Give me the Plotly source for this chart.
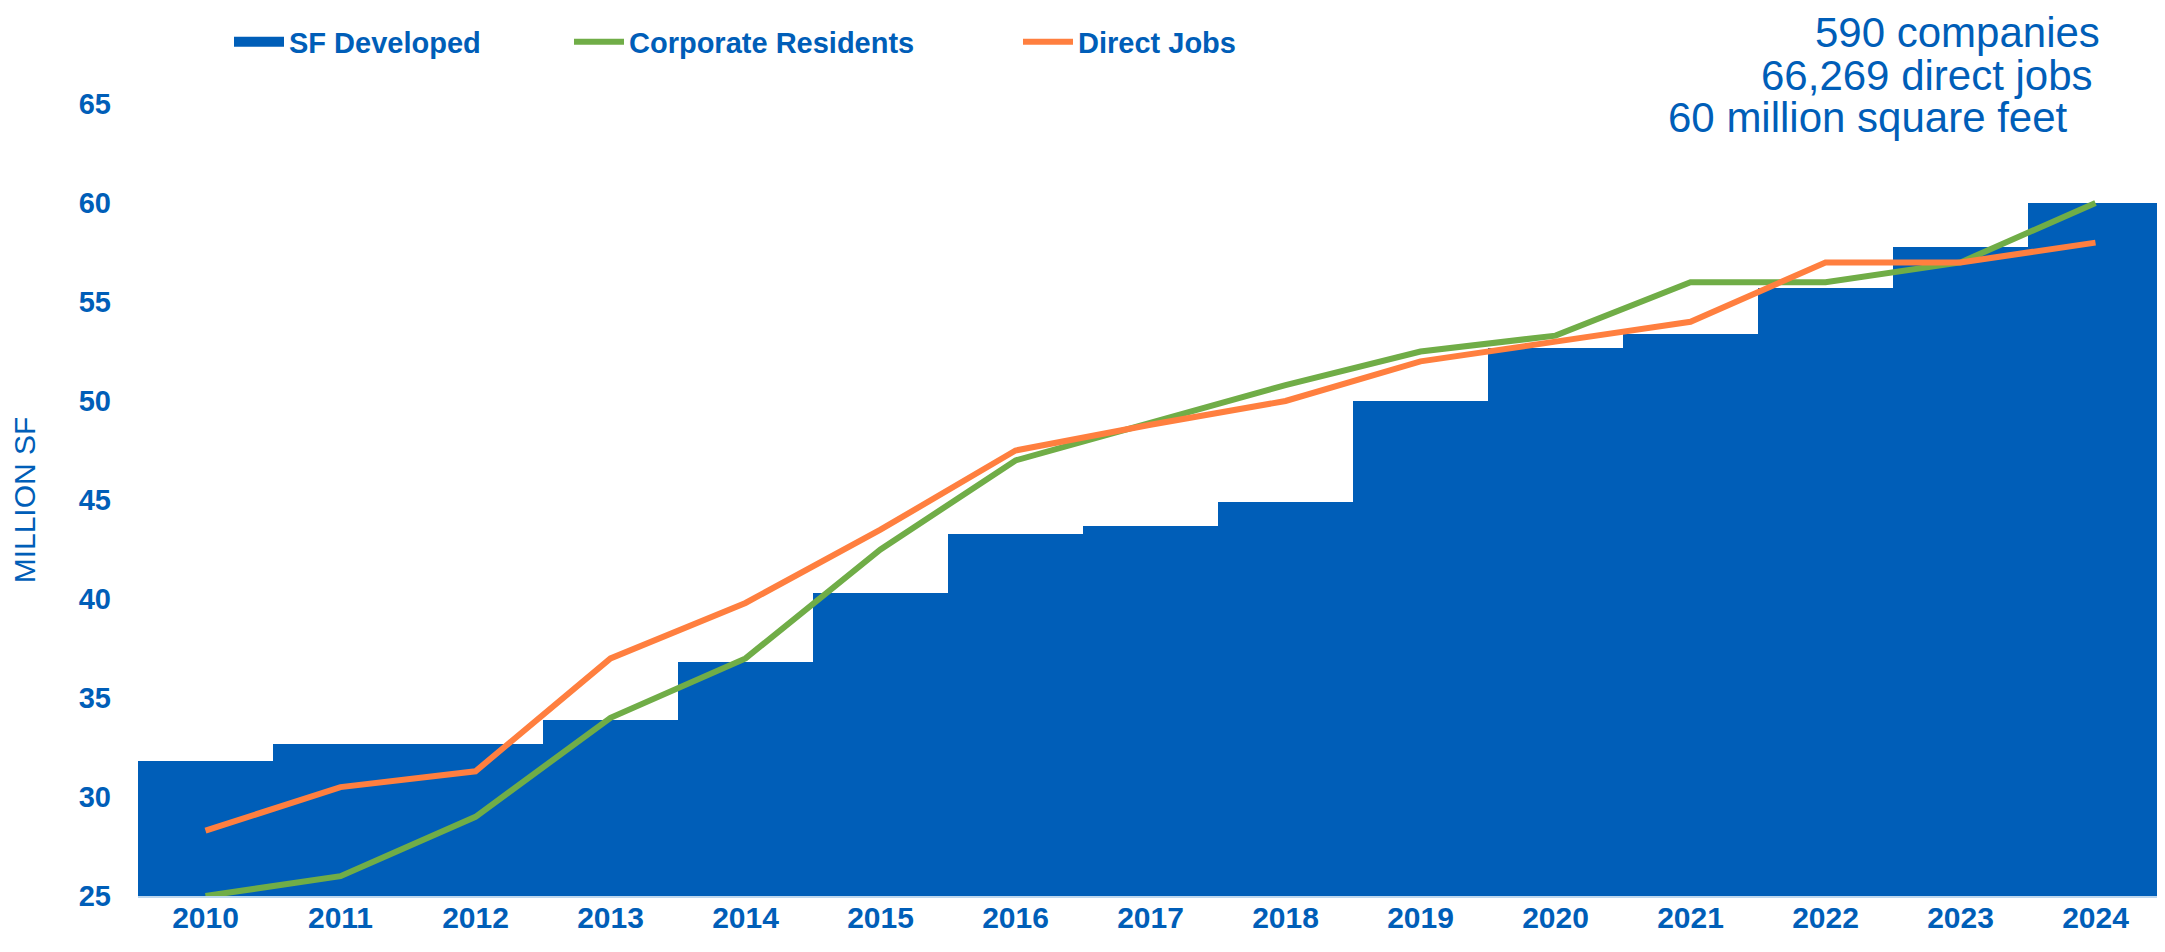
import plotly.graph_objects as go

years = ["2010", "2011", "2012", "2013", "2014", "2015", "2016", "2017",
         "2018", "2019", "2020", "2021", "2022", "2023", "2024"]
sf_developed = [31.8, 32.7, 32.7, 33.9, 36.8, 40.3, 43.3, 43.7, 44.9, 50.0,
                52.7, 53.4, 55.7, 57.8, 60.0]
corporate_residents = [25.0, 26.0, 29.0, 34.0, 37.0, 42.5, 47.0, 48.9, 50.8,
                       52.5, 53.3, 56.0, 56.0, 57.0, 60.0]
direct_jobs = [28.3, 30.5, 31.3, 37.0, 39.8, 43.5, 47.5, 48.8, 50.0, 52.0,
               53.0, 54.0, 57.0, 57.0, 58.0]
y_ticks = [25, 30, 35, 40, 45, 50, 55, 60, 65]
summary_lines = ["590 companies", "66,269 direct jobs", "60 million square feet"]

W, H = 2165, 952
OFF = 8  # page body margin offset
ML, MR, MT, MB = 138 - OFF, 2 + OFF, 104 - OFF, 56 + OFF
BLUE = "#005EB8"
GREEN = "#70AD47"
ORANGE = "#FF7F3F"
FONT = "Liberation Sans, Arial, sans-serif"

fig = go.Figure()
fig.add_trace(go.Bar(x=years, y=sf_developed, marker=dict(color=BLUE, line=dict(width=0)),
                     name="SF Developed", showlegend=False))
# legend proxy for the wide bar swatch
fig.add_trace(go.Scatter(x=[None], y=[None], mode="lines", name="SF Developed",
                         line=dict(color=BLUE, width=16), legend="legend"))
fig.add_trace(go.Scatter(x=years, y=corporate_residents, mode="lines",
                         name="Corporate Residents",
                         line=dict(color=GREEN, width=6), legend="legend2"))
fig.add_trace(go.Scatter(x=years, y=direct_jobs, mode="lines", name="Direct Jobs",
                         line=dict(color=ORANGE, width=6), legend="legend3"))

leg_common = dict(orientation="h", xref="container", yref="container",
                  yanchor="middle", xanchor="left", itemwidth=50,
                  font=dict(family=FONT, size=29, color=BLUE, weight="bold"),
                  bgcolor="rgba(0,0,0,0)", tracegroupgap=0)
ly = 1 - 34 / H

annotations = []
ann_pos = [(2101, 33), (2094, 75), (2069, 118)]
pw = W - ML - MR
ph = H - MT - MB
for txt, (px, py) in zip(summary_lines, ann_pos):
    annotations.append(dict(text=txt, xref="paper", yref="paper",
                            x=(px - OFF - ML) / pw, y=(H - MB - (py - OFF)) / ph,
                            xanchor="right", yanchor="middle", showarrow=False,
                            borderpad=0,
                            font=dict(family=FONT, size=42, color=BLUE)))

fig.update_layout(
    width=W, height=H,
    margin=dict(l=ML, r=MR, t=MT, b=MB, pad=0, autoexpand=False),
    paper_bgcolor="white", plot_bgcolor="white",
    bargap=0,
    font=dict(family=FONT, color=BLUE),
    legend=dict(**leg_common, x=221 / W, y=ly),
    legend2=dict(**leg_common, x=561 / W, y=ly),
    legend3=dict(**leg_common, x=1010 / W, y=ly),
    annotations=annotations,
    xaxis=dict(type="category", range=[-0.5, 14.5], showgrid=False, zeroline=False,
               showline=True, linecolor="#BDD7EE", linewidth=2, automargin=False,
               tickfont=dict(family=FONT, size=30, color=BLUE, weight="bold"),
               ticks="", ticklabelstandoff=-6),
    yaxis=dict(range=[25, 65], tickvals=y_ticks, showgrid=False, zeroline=False,
               showline=False, ticks="", ticklabelstandoff=26, automargin=False,
               tickfont=dict(family=FONT, size=29, color=BLUE, weight="bold"),
               title=dict(text="MILLION SF", standoff=38,
                          font=dict(family=FONT, size=30, color=BLUE))),
)

fig.write_html("out.html")
